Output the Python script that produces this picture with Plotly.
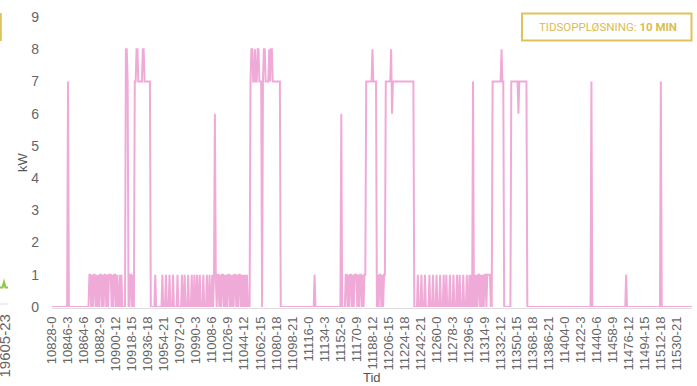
import plotly.graph_objects as go

# ---- categories (10-minute steps: "<index>-<hour>") ----
START_INDEX = 10828
N_POINTS = 720
categories = [f"{START_INDEX + i}-{(i // 6) % 24}" for i in range(N_POINTS)]
tick_labels = categories[::18]

y_ticks = [0, 1, 2, 3, 4, 5, 6, 7, 8, 9]

# ---- kW series, stored as (value, run length) ----
kw_runs = [
    (0, 18), (7, 1), (0, 23),
    (1, 2), (0, 1), (1, 1), (0, 1), (1, 2), (0, 1), (1, 1), (0, 1), (1, 1), (0, 1),
    (1, 2), (0, 1), (1, 1), (0, 1), (1, 2), (0, 1), (1, 1), (0, 1), (1, 3), (0, 1),
    (1, 1), (0, 1), (1, 2), (0, 1), (1, 1), (0, 2), (1, 1), (0, 1), (1, 1), (0, 1),
    (0, 3),
    (8, 2), (7, 1),
    (0, 2), (1, 2), (0, 1), (1, 1), (0, 1),
    (7, 2), (8, 2), (7, 5), (8, 2), (7, 7),
    (0, 5), (1, 1), (0, 7),
    (1, 1), (0, 3), (1, 1), (0, 3), (1, 1), (0, 3), (1, 1), (0, 4), (1, 1), (0, 4),
    (1, 1), (0, 2), (1, 1), (0, 3), (1, 1), (0, 3), (1, 1), (0, 2), (1, 1), (0, 2),
    (1, 1), (0, 2), (1, 1), (0, 3), (1, 1), (0, 3), (1, 1), (0, 2), (1, 1), (0, 2),
    (1, 1), (0, 1), (1, 1), (6, 1), (1, 1), (0, 1),
    (1, 2), (0, 1), (1, 1), (0, 1), (1, 2), (0, 1), (1, 1), (0, 1), (1, 1), (0, 1),
    (1, 2), (0, 1), (1, 1), (0, 1), (1, 1), (0, 1), (1, 2), (0, 1), (1, 1), (0, 1),
    (1, 2), (0, 1), (1, 1), (0, 1), (1, 1), (0, 1),
    (1, 1), (0, 1), (1, 1), (0, 3),
    (7, 1), (8, 2), (7, 2), (8, 1), (7, 2), (8, 2), (7, 3),
    (0, 1),
    (7, 1), (8, 2), (7, 4), (8, 1), (7, 1), (8, 2), (7, 1),
    (7, 8),
    (0, 38), (1, 1), (0, 29), (6, 1), (0, 4),
    (1, 2), (0, 1), (1, 1), (0, 1), (1, 2), (0, 1), (1, 1), (0, 1), (1, 3), (0, 1),
    (1, 1), (0, 1), (1, 2), (0, 1), (1, 1), (0, 1), (1, 1),
    (1, 1),
    (7, 7), (8, 1), (7, 4),
    (0, 1),
    (1, 1), (0, 1), (1, 2), (0, 1), (1, 1), (0, 1), (1, 2),
    (7, 6), (8, 1), (6, 1), (7, 24),
    (0, 4), (1, 1), (0, 3), (1, 1),
    (0, 3), (1, 1), (0, 4), (1, 1), (0, 3), (1, 1), (0, 3), (1, 1), (0, 3), (1, 1),
    (0, 3), (1, 1), (0, 2), (1, 1), (0, 3), (1, 1), (0, 3), (1, 1), (0, 3), (1, 1),
    (0, 2), (1, 1), (0, 3), (1, 1), (0, 3), (1, 1), (0, 2), (1, 1), (0, 1), (1, 1), (0, 1),
    (7, 1),
    (0, 1), (1, 1), (0, 1), (1, 1), (0, 1), (1, 2), (0, 1), (1, 1), (0, 1), (1, 1),
    (0, 1), (1, 2), (0, 1), (1, 4), (0, 2),
    (7, 10), (8, 1), (7, 2),
    (0, 8),
    (7, 8), (6, 1), (7, 9),
    (0, 72), (7, 1), (0, 38), (1, 1), (0, 38), (7, 1), (0, 35),
]

kw_values = []
for value, count in kw_runs:
    kw_values.extend([value] * count)
assert len(kw_values) == N_POINTS, len(kw_values)

LINE_COLOR = "#F0AAD8"
GOLD = "#E0C25A"
GRAY_TEXT = "#666666"

fig = go.Figure()
fig.add_trace(go.Scatter(
    x=categories, y=kw_values, mode="lines",
    line=dict(color=LINE_COLOR, width=2),
    showlegend=False, hoverinfo="x+y",
))

# pixel -> paper helpers (plot area: x 52..692, y 17..307)
def px(x):
    return (x - 52) / 640.0

def py(y):
    return (307 - y) / 290.0

shapes = [
    # baseline
    dict(type="line", xref="paper", yref="paper", x0=0, x1=1, y0=py(308.5), y1=py(308.5),
         line=dict(color="#DDDDDD", width=1), layer="below"),
    # resolution box
    dict(type="rect", xref="paper", yref="paper", x0=px(522), x1=px(691.5),
         y0=py(40.5), y1=py(13.5), line=dict(color=GOLD, width=2)),
    # neighbouring chart fragments at the left edge
    dict(type="line", xref="paper", yref="paper", x0=px(0.8), x1=px(0.8),
         y0=py(41), y1=py(13), line=dict(color=GOLD, width=2)),
    dict(type="line", xref="paper", yref="paper", x0=px(0), x1=px(8),
         y0=py(304), y1=py(304), line=dict(color="#DDDDDD", width=1)),
    dict(type="path", xref="paper", yref="paper",
         path=f"M {px(0)},{py(287.5)} L {px(2.5)},{py(287.5)} L {px(4)},{py(282)} "
              f"L {px(5.5)},{py(287.5)} L {px(8)},{py(287.5)}",
         line=dict(color="#8DC63F", width=2)),
]

annotations = [
    dict(text="TIDSOPPLØSNING: <b>10 MIN</b>", xref="paper", yref="paper",
         x=px(608), y=py(27), xanchor="center", yanchor="middle", showarrow=False,
         font=dict(family="Roboto", size=11.5, color="#D9BC52")),
    dict(text="kW", xref="paper", yref="paper", x=px(22), y=0.5, textangle=-90,
         xanchor="center", yanchor="middle", showarrow=False,
         font=dict(family="Liberation Sans, Arial", size=13, color="#555555")),
    dict(text="Tid", xref="paper", yref="paper", x=0.5, y=py(377), xanchor="center",
         yanchor="middle", showarrow=False,
         font=dict(family="Liberation Sans, Arial", size=13, color="#555555")),
    dict(text="19605-23", xref="paper", yref="paper", x=px(4), y=py(313), textangle=-90,
         xanchor="center", yanchor="top", showarrow=False,
         font=dict(family="Liberation Sans, Arial", size=15, color=GRAY_TEXT)),
]

fig.update_layout(
    width=697, height=386, autosize=False,
    margin=dict(l=52, r=5, t=17, b=79, pad=0),
    paper_bgcolor="white", plot_bgcolor="white",
    font=dict(family="Liberation Sans, Arial", color=GRAY_TEXT),
    shapes=shapes, annotations=annotations,
    xaxis=dict(
        type="category", range=[0, N_POINTS - 1], automargin=False,
        tickmode="array", tickvals=tick_labels, ticktext=tick_labels,
        tickangle=-90, tickfont=dict(size=13, color=GRAY_TEXT),
        showgrid=False, zeroline=False, showline=False, ticks="",
        ticklabelstandoff=6,
    ),
    yaxis=dict(
        range=[0, 9], tickmode="array", tickvals=y_ticks, automargin=False,
        tickfont=dict(size=14, color=GRAY_TEXT),
        showgrid=False, zeroline=False, showline=False, ticks="",
        ticklabelstandoff=12,
    ),
)

fig.write_html(
    "out.html",
    config={"displayModeBar": False},
    post_script="document.body.style.margin='0';document.body.style.padding='0';",
)
